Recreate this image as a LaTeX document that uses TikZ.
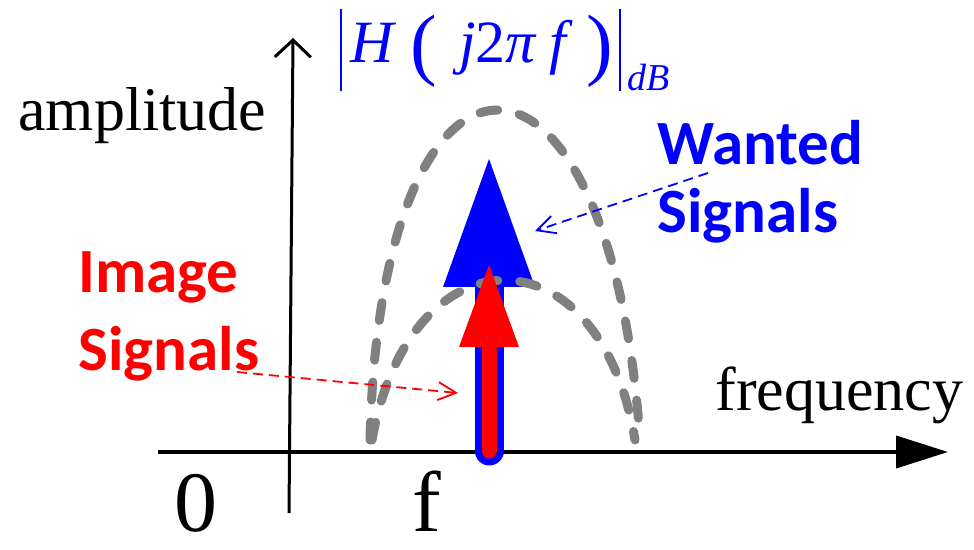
\documentclass[tikz,border=0pt]{standalone}
\usepackage{fontspec}
\setmainfont{Liberation Serif}
\newfontfamily\calibfont{Carlito}
\usetikzlibrary{arrows.meta}
\definecolor{sigblue}{RGB}{0,0,255}
\definecolor{sigred}{RGB}{255,0,0}
\definecolor{envgray}{RGB}{128,128,128}
\tikzset{
  axis/.style={line width=#1,draw=black},
  axis/.default=1.5pt,
  envelope/.style={draw=envgray,line width=4.5pt,line cap=round,dash pattern=on 9pt off 11pt},
  pointer/.style={draw=#1,line width=0.9pt,dash pattern=on 5pt off 3pt,
    -{Straight Barb[length=9pt,width=9pt]}},
  sig label/.style={font=\calibfont\bfseries\fontsize{31.5}{34}\selectfont,text=#1,
    align=left,inner sep=0pt},
  axis label/.style={font=\fontsize{31}{31}\selectfont,inner sep=0pt},
  tick label/.style={font=\fontsize{43}{43}\selectfont,inner sep=0pt},
}

\begin{document}
\begin{tikzpicture}[x=0.5pt,y=-0.5pt]
  \useasboundingbox (0,0) rectangle (974,550);
  % axes
  \coordinate (xstart) at (158,452);
  \coordinate (xend) at (948,452);
  \coordinate (ybottom) at (289,513);
  \coordinate (ytop) at (293,38);
  \draw[axis=2pt,-{Triangle[length=26pt,width=16pt]}] (xstart) -- (xend);
  \draw[axis,-{Straight Barb[length=8.5pt,width=18pt]}] (ybottom) -- (ytop);
  \node[axis label,anchor=base west] (amp) at (18,131) {amplitude};
  \node[axis label,anchor=base west] (freq) at (715,410) {frequency};
  \node[tick label,anchor=base] (zero) at (196,531) {0};
  \node[tick label,anchor=base] (fval) at (427,531) {f};
  \node[anchor=base west,inner sep=0pt,text=sigblue,font=\fontsize{30}{30}\selectfont] (hmag) at (340,63)
    {\rule[-14pt]{1pt}{41pt}\kern4pt\textit{H}\kern7pt\raisebox{-4pt}{\fontsize{40}{40}\selectfont(}\kern11pt\textit{j}2\textit{π}\kern6pt\textit{f}\kern7pt\raisebox{-4pt}{\fontsize{40}{40}\selectfont)}\kern3pt\rule[-14pt]{1pt}{41pt}\kern3pt\raisebox{-14pt}{\fontsize{19}{19}\selectfont\textit{dB}}};
  % wanted signal (blue) and filter shape
  \coordinate (fpos) at (489,451);
  \coordinate (bluetip) at (489,159);
  \coordinate (redtip) at (489,265);
  \draw[sigblue,line width=14.5pt,line cap=round] (fpos) -- (489,287);
  \fill[sigblue] (bluetip) -- (535,287) -- (443,287) -- cycle;
  \draw[envelope] (370,440) .. controls (380,0) and (610,0) .. (640,440);
  \draw[envelope] (372,440) .. controls (410,227) and (600,227) .. (635,440);
  % image signal (red)
  \draw[sigred,line width=7.5pt,line cap=round] (fpos) -- (489,347);
  \fill[sigred] (redtip) -- (519,347) -- (459,347) -- cycle;
  % labels
  \node[sig label=sigblue,anchor=base west] (wanted) at (657,233) {Wanted\\Signals};
  \node[sig label=sigred,anchor=base west] (image) at (78,371) {Image\\[5pt]Signals};
  \coordinate (wtail) at (708,173);
  \coordinate (whead) at (535,231);
  \coordinate (itail) at (237,372);
  \coordinate (ihead) at (458,393);
  \draw[pointer=sigblue] (wtail) -- (whead);
  \draw[pointer=sigred] (itail) -- (ihead);
\end{tikzpicture}
\end{document}
